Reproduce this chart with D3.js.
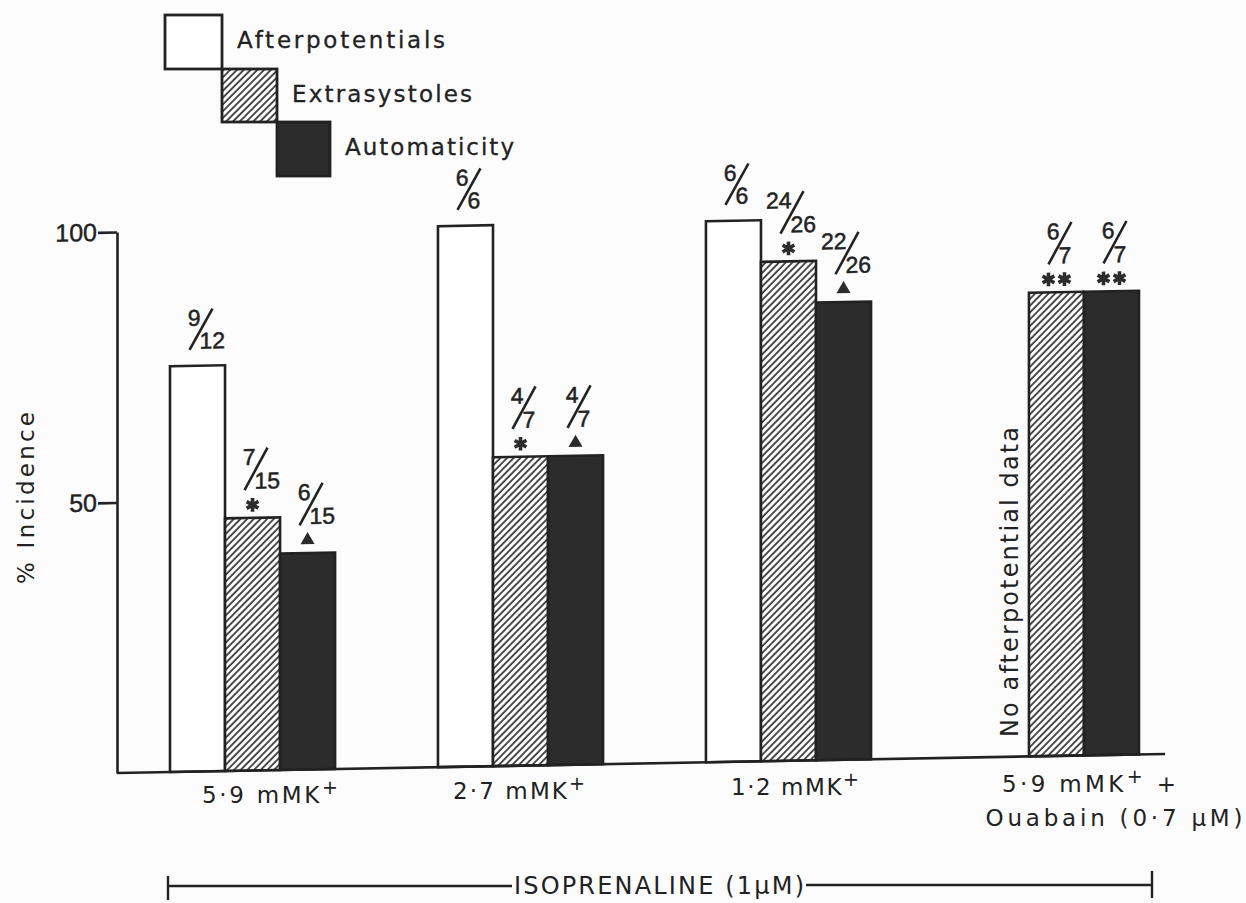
<!DOCTYPE html>
<html>
<head>
<meta charset="utf-8">
<script src="https://cdn.jsdelivr.net/npm/d3@7"></script>
<style>
  body { margin: 0; background: #fcfcfc; }
  svg { display: block; }
  text { font-family: "DejaVu Sans", "Liberation Sans", Arial, sans-serif; fill: #222; }
  .num { font-family: "Liberation Sans", Arial, Helvetica, sans-serif; }
</style>
</head>
<body>
<svg id="chart"></svg>
<script>
// x categories (the first "+" after K is a superscript)
const groupLabels = ["5·9 mMK+", "2·7 mMK+", "1·2 mMK+", "5·9 mMK+ +"];
const groupSubLabels = ["", "", "", "Ouabain (0·7 μM)"];
const series = ["Afterpotentials", "Extrasystoles", "Automaticity"];

// % incidence per group, null = no data
const afterpotentials = [75, 100, 100, null];
const extrasystoles = [46.7, 57.1, 92.3, 85.7];
const automaticity = [40, 57.1, 84.6, 85.7];

// n / N written above each bar
const afterFrac = [[9, 12], [6, 6], [6, 6], null];
const extraFrac = [[7, 15], [4, 7], [24, 26], [6, 7]];
const autoFrac = [[6, 15], [4, 7], [22, 26], [6, 7]];

// significance marks
const extraMark = ["*", "*", "*", "**"];
const autoMark = ["tri", "tri", "tri", "**"];

const yTicks = [50, 100];
const yLabel = "% Incidence";
const noDataLabel = "No afterpotential data";
const drugLabel = "ISOPRENALINE (1μM)";

const width = 1246, height = 903;
const ink = "#222";
const dark = "#2c2c2c";

const svg = d3.select("#chart").attr("width", width).attr("height", height);

// hatch pattern for extrasystoles
const defs = svg.append("defs");
const pat = defs.append("pattern")
    .attr("id", "hatch")
    .attr("patternUnits", "userSpaceOnUse")
    .attr("width", 4.8).attr("height", 4.8)
    .attr("patternTransform", "rotate(45)");
pat.append("rect").attr("width", 4.8).attr("height", 4.8).attr("fill", "#fff");
pat.append("line").attr("x1", 1).attr("y1", 0).attr("x2", 1).attr("y2", 4.8)
    .attr("stroke", ink).attr("stroke-width", 1.6);

const fills = ["#fff", "url(#hatch)", dark];
const seriesValues = [afterpotentials, extrasystoles, automaticity];
const seriesFrac = [afterFrac, extraFrac, autoFrac];
const seriesMark = [null, extraMark, autoMark];

// scales
const x = d3.scaleBand().domain(d3.range(groupLabels.length)).range([170, 1139])
    .paddingInner(0.384).paddingOuter(0);
const xs = d3.scaleBand().domain(series).range([0, x.bandwidth()]);
const y = d3.scaleLinear().domain([0, 100]).range([773, 232]);

// the scanned figure is slightly sheared, the plot follows it
const k = 0.0182;
const plot = svg.append("g")
    .attr("transform", `translate(0,${117 * k}) skewY(${-Math.atan(k) * 180 / Math.PI})`);

// bars
const bars = [];
groupLabels.forEach((g, i) => {
    series.forEach((s, j) => {
        const v = seriesValues[j][i];
        if (v == null) return;
        bars.push({i, j, s, v, frac: seriesFrac[j][i], mark: seriesMark[j] ? seriesMark[j][i] : null});
    });
});

plot.selectAll(".bar")
    .data(bars)
    .join("rect")
    .attr("class", "bar")
    .attr("x", d => x(d.i) + xs(d.s))
    .attr("y", d => y(d.v))
    .attr("width", xs.bandwidth())
    .attr("height", d => y(0) - y(d.v))
    .attr("fill", d => fills[d.j])
    .attr("stroke", ink)
    .attr("stroke-width", 2.6);

// y axis
const yAxis = d3.axisLeft(y).tickValues(yTicks).tickSize(19).tickSizeOuter(0).tickPadding(1);
const yAxisG = plot.append("g").attr("transform", "translate(117,0)").call(yAxis);
yAxisG.select(".domain").attr("stroke", ink).attr("stroke-width", 2.6);
yAxisG.selectAll(".tick line").attr("stroke", ink).attr("stroke-width", 2.6);
yAxisG.selectAll(".tick text").attr("class", "num").attr("font-size", 25).attr("fill", ink)
    .attr("stroke", ink).attr("stroke-width", 0.4);

// baseline
plot.append("line")
    .attr("x1", 117).attr("x2", 1165)
    .attr("y1", y(0)).attr("y2", y(0))
    .attr("stroke", ink).attr("stroke-width", 2.6);

// fractions and marks above the bars
const fracG = plot.append("g");
bars.forEach(d => {
    if (!d.frac) return;
    const cx = x(d.i) + xs(d.s) + xs.bandwidth() / 2 + 4;
    const top = y(d.v);
    const numBase = d.mark ? top - 53 : top - 40;
    const denBase = d.mark ? top - 29 : top - 17;
    fracG.append("text").attr("class", "num").attr("x", cx - 1).attr("y", numBase)
        .attr("text-anchor", "end").attr("font-size", 23)
        .attr("stroke", ink).attr("stroke-width", 0.5).text(d.frac[0]);
    fracG.append("line")
        .attr("x1", cx - 12).attr("y1", denBase + 1)
        .attr("x2", cx + 11).attr("y2", numBase - 17)
        .attr("stroke", ink).attr("stroke-width", 2.6);
    fracG.append("text").attr("class", "num").attr("x", cx - 2).attr("y", denBase)
        .attr("text-anchor", "start").attr("font-size", 23)
        .attr("stroke", ink).attr("stroke-width", 0.5).text(d.frac[1]);

    if (!d.mark) return;
    const mx = x(d.i) + xs(d.s) + xs.bandwidth() / 2;
    const my = top - 13;
    if (d.mark === "tri") {
        fracG.append("path")
            .attr("d", d3.symbol(d3.symbolTriangle, 85)())
            .attr("transform", `translate(${mx},${my})`)
            .attr("fill", dark);
    } else {
        const offs = d.mark === "**" ? [-8, 8] : [0];
        offs.forEach(o => {
            fracG.append("path")
                .attr("d", d3.symbol(d3.symbolAsterisk, 130)())
                .attr("transform", `translate(${mx + o},${my})`)
                .attr("fill", "none")
                .attr("stroke", dark).attr("stroke-width", 3.6);
        });
    }
});

// legend, stepped boxes
const legend = svg.append("g").attr("class", "legend");
const boxW = [57, 55, 53], boxH = [54, 53, 54];
let lx = 165, ly = 15;
const textLen = [208, 180, 169];
series.forEach((s, j) => {
    legend.append("rect")
        .attr("x", lx).attr("y", ly)
        .attr("width", boxW[j]).attr("height", boxH[j])
        .attr("fill", fills[j]).attr("stroke", ink).attr("stroke-width", 2.8);
    legend.append("text")
        .attr("x", lx + boxW[j] + 15).attr("y", ly + 33)
        .attr("font-size", 23)
        .attr("textLength", textLen[j]).attr("lengthAdjust", "spacing")
        .attr("stroke", ink).attr("stroke-width", 0.3)
        .text(s);
    lx += boxW[j];
    ly += boxH[j];
});

// category labels
const catPos = [
    {cx: 270, base: 803, len: 136},
    {cx: 519, base: 799, len: 132},
    {cx: 795, base: 795, len: 128},
    {cx: 1089, base: 792, len: 174}
];
groupLabels.forEach((g, i) => {
    const cut = g.indexOf("K+") + 1;
    const t = svg.append("text")
        .attr("x", catPos[i].cx).attr("y", catPos[i].base)
        .attr("text-anchor", "middle").attr("font-size", 23)
        .attr("textLength", catPos[i].len).attr("lengthAdjust", "spacing");
    t.append("tspan").text(g.slice(0, cut));
    t.append("tspan").attr("dy", -9).attr("font-size", 19).text("+");
    if (g.length > cut + 1) t.append("tspan").attr("dy", 9).attr("font-size", 23).text(g.slice(cut + 1));
    if (groupSubLabels[i]) {
        svg.append("text")
            .attr("x", 1114).attr("y", 826)
            .attr("text-anchor", "middle").attr("font-size", 23)
            .attr("textLength", 257).attr("lengthAdjust", "spacing")
            .text(groupSubLabels[i]);
    }
});

// y label
svg.append("text")
    .attr("transform", "translate(34,498) rotate(-90)")
    .attr("text-anchor", "middle").attr("font-size", 23)
    .attr("textLength", 172).attr("lengthAdjust", "spacing")
    .text(yLabel);

// missing afterpotential note
svg.append("text")
    .attr("transform", "translate(1018,737) rotate(-90)")
    .attr("font-size", 24)
    .attr("textLength", 310).attr("lengthAdjust", "spacing")
    .text(noDataLabel);

// isoprenaline bracket
const br = svg.append("g").attr("stroke", ink).attr("stroke-width", 2.4);
br.append("line").attr("x1", 168).attr("x2", 512).attr("y1", 886).attr("y2", 886);
br.append("line").attr("x1", 806).attr("x2", 1152).attr("y1", 885).attr("y2", 885);
br.append("line").attr("x1", 168).attr("x2", 168).attr("y1", 876).attr("y2", 900);
br.append("line").attr("x1", 1152).attr("x2", 1152).attr("y1", 871).attr("y2", 898);
svg.append("text")
    .attr("x", 659).attr("y", 894)
    .attr("text-anchor", "middle").attr("font-size", 24)
    .attr("textLength", 290).attr("lengthAdjust", "spacing")
    .text(drugLabel);
</script>
</body>
</html>
